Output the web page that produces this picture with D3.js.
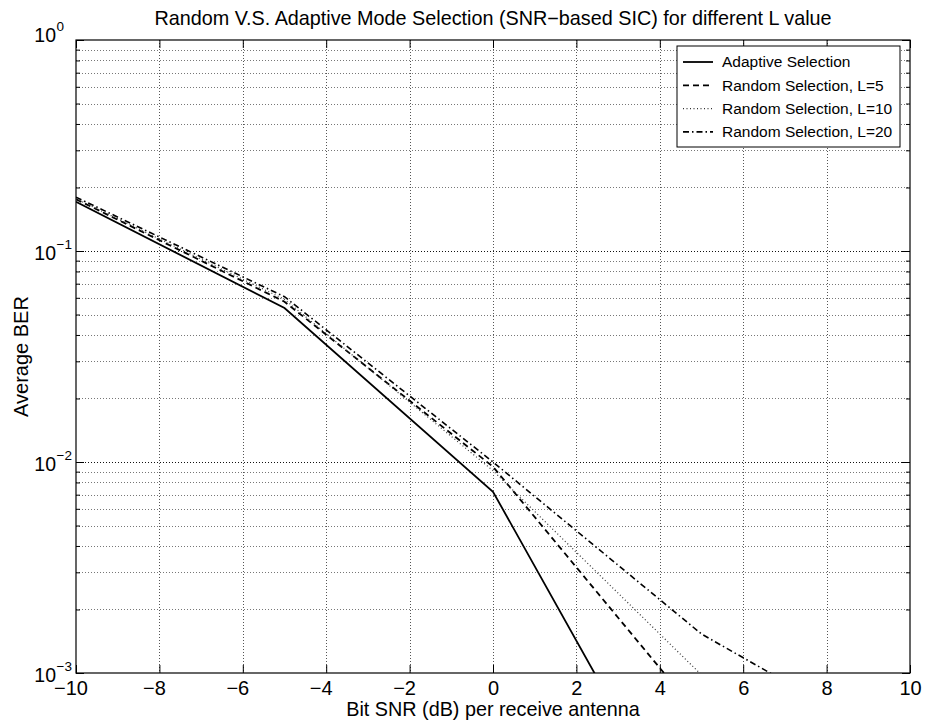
<!DOCTYPE html>
<html>
<head>
<meta charset="utf-8">
<script src="https://cdn.jsdelivr.net/npm/d3@7"></script>
<style>
  body { margin: 0; background: #fff; }
  text { font-family: "Liberation Sans", Arial, Helvetica, sans-serif; fill: #000; }
  .domain { display: none; }
</style>
</head>
<body>
<script>
// Bit SNR points (dB) and average BER per curve
const snr = [-10, -5, 0, 5, 10];
const adaptive = [0.171, 0.0537, 0.00723, 1.24e-4, 2.5e-6];
const randomL5 = [0.176, 0.0575, 0.0095, 6.1e-4, 4e-5];
const randomL10 = [0.177, 0.0590, 0.0091, 9.8e-4, 1.1e-4];
const randomL20 = [0.180, 0.0607, 0.0100, 1.53e-3, 4.2e-4];

const seriesNames = ["Adaptive Selection", "Random Selection, L=5", "Random Selection, L=10", "Random Selection, L=20"];
const xTicks = [-10, -8, -6, -4, -2, 0, 2, 4, 6, 8, 10];
const yTicks = [1e-3, 1e-2, 1e-1, 1];
const yExponents = ["\u22123", "\u22122", "\u22121", "0"];

const W = 926, H = 726;
const pL = 76, pT = 40, pR = 910, pB = 673;

var svg = d3.select("body")
            .append("svg")
            .attr("width", W)
            .attr("height", H);

var xScale = d3.scaleLinear()
            .domain([-10, 10])
            .range([pL, pR]);

var yScale = d3.scaleLog()
            .domain([1e-3, 1])
            .range([pB, pT]);

// minor ticks 2..9 of every decade
var yMinor = [];
yTicks.slice(0, -1).forEach(d => {
  for (let k = 2; k <= 9; k++) yMinor.push(d * k);
});

// grid
var grid = svg.append("g");
grid.selectAll(".gx")
    .data(xTicks.slice(1, -1))
    .enter().append("line")
    .attr("x1", d => Math.round(xScale(d)) + 0.5).attr("x2", d => Math.round(xScale(d)) + 0.5)
    .attr("y1", pT).attr("y2", pB)
    .attr("stroke", "#555").attr("stroke-width", 1)
    .attr("stroke-dasharray", "1,2");
grid.selectAll(".gym")
    .data(yMinor)
    .enter().append("line")
    .attr("x1", pL).attr("x2", pR)
    .attr("y1", d => Math.round(yScale(d)) + 0.5).attr("y2", d => Math.round(yScale(d)) + 0.5)
    .attr("stroke", "#777").attr("stroke-width", 1)
    .attr("stroke-dasharray", "1,2");
grid.selectAll(".gyM")
    .data(yTicks.slice(1, -1))
    .enter().append("line")
    .attr("x1", pL).attr("x2", pR)
    .attr("y1", d => Math.round(yScale(d)) + 0.5).attr("y2", d => Math.round(yScale(d)) + 0.5)
    .attr("stroke", "#111").attr("stroke-width", 1)
    .attr("stroke-dasharray", "1,2");

// axes with inside ticks
svg.append("g")
   .attr("transform", `translate(0,${pB})`)
   .call(d3.axisBottom(xScale).tickValues(xTicks).tickSize(-8).tickPadding(8)
         .tickFormat(d => d < 0 ? "\u2212" + (-d) : d))
   .call(g => g.selectAll(".tick text")
               .attr("font-size", 20)
               .attr("font-family", "Liberation Sans, Arial, sans-serif")
               .attr("dx", d => d < 0 ? -5.5 : 0));

svg.append("g")
   .attr("transform", `translate(0,${pT})`)
   .call(d3.axisTop(xScale).tickValues(xTicks).tickSize(-8).tickFormat(""));

svg.append("g")
   .attr("transform", `translate(${pL},0)`)
   .call(d3.axisLeft(yScale).tickValues(yTicks).tickSize(-8).tickFormat(""));

svg.append("g")
   .attr("transform", `translate(${pL},0)`)
   .call(d3.axisLeft(yScale).tickValues(yMinor).tickSize(-4).tickFormat(""));

svg.append("g")
   .attr("transform", `translate(${pR},0)`)
   .call(d3.axisRight(yScale).tickValues(yTicks).tickSize(-8).tickFormat(""));

svg.append("g")
   .attr("transform", `translate(${pR},0)`)
   .call(d3.axisRight(yScale).tickValues(yMinor).tickSize(-4).tickFormat(""));

svg.selectAll(".tick line").attr("stroke", "#000");

// y tick labels 10^k
svg.append("g").selectAll("text")
   .data(yTicks)
   .enter().append("text")
   .attr("x", 56)
   .attr("y", d => yScale(d) + (d === 1 ? 2 : 8.5))
   .attr("text-anchor", "end")
   .attr("font-size", 19.5)
   .text("10");
svg.append("g").selectAll("text")
   .data(yTicks)
   .enter().append("text")
   .attr("x", 56.5)
   .attr("y", d => yScale(d) + (d === 1 ? 2 : 8.5) - 11)
   .attr("font-size", 13.5)
   .text((d, i) => yExponents[i]);

// frame
svg.append("rect")
   .attr("x", pL).attr("y", pT)
   .attr("width", pR - pL).attr("height", pB - pT)
   .attr("fill", "none").attr("stroke", "#000").attr("stroke-width", 1.2);

// curves
svg.append("clipPath").attr("id", "clip")
   .append("rect")
   .attr("x", pL).attr("y", pT)
   .attr("width", pR - pL).attr("height", pB - pT);

const styles = [
  { dash: null, width: 1.8, color: "#000" },
  { dash: "6,4", width: 1.8, color: "#000" },
  { dash: "1,2.5", width: 1.2, color: "#333" },
  { dash: "6,3,1.5,3", width: 1.6, color: "#000" }
];
const curves = [adaptive, randomL5, randomL10, randomL20];

var line = d3.line()
   .x((d, i) => xScale(snr[i]))
   .y(d => yScale(d));

svg.append("g").attr("clip-path", "url(#clip)")
   .selectAll("path")
   .data(curves)
   .enter().append("path")
   .attr("d", d => line(d))
   .attr("fill", "none")
   .attr("stroke", (d, i) => styles[i].color)
   .attr("stroke-width", (d, i) => styles[i].width)
   .attr("stroke-dasharray", (d, i) => styles[i].dash);

// legend
var legend = svg.append("g");
legend.append("rect")
   .attr("x", 677).attr("y", 46)
   .attr("width", 223).attr("height", 101)
   .attr("fill", "#fff").attr("stroke", "#000").attr("stroke-width", 1);

var entry = legend.selectAll(".entry")
   .data(seriesNames)
   .enter().append("g")
   .attr("transform", (d, i) => `translate(0,${62 + i * 23.3})`);
entry.append("line")
   .attr("x1", 683).attr("x2", 713)
   .attr("stroke", (d, i) => styles[i].color)
   .attr("stroke-width", (d, i) => styles[i].width)
   .attr("stroke-dasharray", (d, i) => styles[i].dash);
entry.append("text")
   .attr("x", 722)
   .attr("dy", "0.35em")
   .attr("font-size", 15.5)
   .text(d => d);

// titles
svg.append("text")
   .attr("x", (pL + pR) / 2)
   .attr("y", 25)
   .attr("text-anchor", "middle")
   .attr("font-size", 19.8)
   .text("Random V.S. Adaptive Mode Selection (SNR\u2212based SIC) for different L value");

svg.append("text")
   .attr("x", (pL + pR) / 2)
   .attr("y", 716)
   .attr("text-anchor", "middle")
   .attr("font-size", 19.8)
   .text("Bit SNR (dB) per receive antenna");

svg.append("text")
   .attr("transform", `translate(28,${(pT + pB) / 2}) rotate(-90)`)
   .attr("text-anchor", "middle")
   .attr("font-size", 20)
   .text("Average BER");
</script>
</body>
</html>
